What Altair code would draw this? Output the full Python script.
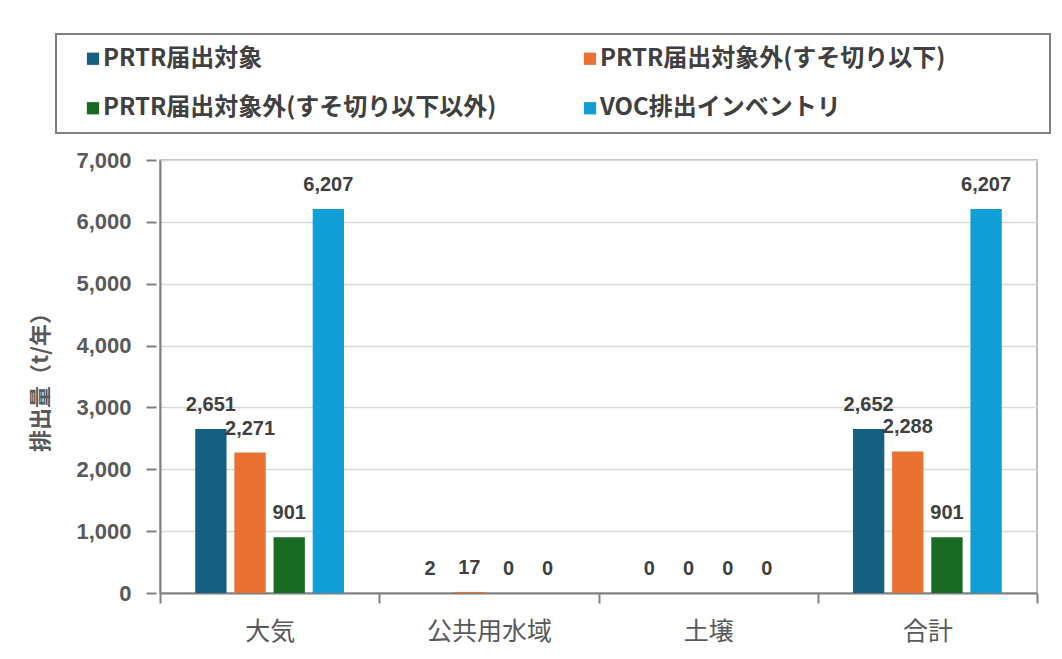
import altair as alt
import pandas as pd

# ---- data ----
categories = ["大気", "公共用水域", "土壌", "合計"]
series_names = [
    "PRTR届出対象",
    "PRTR届出対象外(すそ切り以下)",
    "PRTR届出対象外(すそ切り以下以外)",
    "VOC排出インベントリ",
]
series_colors = ["#156082", "#E97132", "#196B24", "#0F9ED5"]
v_prtr = [2651, 2, 0, 2652]
v_below = [2271, 17, 0, 2288]
v_other = [901, 0, 0, 901]
v_voc = [6207, 0, 0, 6207]
y_ticks = [0, 1000, 2000, 3000, 4000, 5000, 6000, 7000]
y_title = "排出量（t/年）"

CJK = "Noto Sans CJK JP"
NUM = "Liberation Sans"
AXIS_GRAY = "#808080"

rows = []
for s, vals in zip(series_names, [v_prtr, v_below, v_other, v_voc]):
    for c, v in zip(categories, vals):
        rows.append({"category": c, "series": s, "value": v})
df = pd.DataFrame(rows)

color_scale = alt.Scale(domain=series_names, range=series_colors)
y_scale = alt.Scale(domain=[0, 7000], nice=False)

# ---- legend panel (boxed, 2 columns) ----
leg_df = pd.DataFrame({
    "series": series_names,
    "col": [i % 2 for i in range(len(series_names))],
    "row": [i // 2 for i in range(len(series_names))],
})
leg_base = alt.Chart(leg_df).encode(
    x=alt.X("col:Q", axis=None, scale=alt.Scale(domain=[0, 2], nice=False, zero=False)),
    y=alt.Y("row:Q",
            axis=alt.Axis(title=None, ticks=False, domain=False, grid=False,
                          values=[0], labelExpr="'0000'", labelOpacity=0,
                          labelFont=NUM, labelFontSize=10, labelPadding=3),
            scale=alt.Scale(domain=[-0.5, 1.5], reverse=True, nice=False, zero=False)),
)
leg_sym = leg_base.mark_square(size=150, opacity=1, xOffset=37).encode(
    color=alt.Color("series:N", scale=color_scale, legend=None)
)
leg_txt = leg_base.mark_text(
    align="left", baseline="middle", xOffset=47, font=CJK, fontSize=24,
    fontWeight="bold", color="#404040"
).encode(text="series:N")
legend_panel = alt.layer(leg_sym, leg_txt).properties(
    width=994, height=99,
    view=alt.ViewBackground(stroke="#7f7f7f", strokeWidth=2),
)

# ---- y-axis cell (labels + title) ----
yaxis_cell = alt.Chart(df).mark_point(opacity=0).encode(
    y=alt.Y("value:Q", scale=y_scale,
            axis=alt.Axis(values=y_ticks, labelExpr="format(datum.value, ',')",
                          offset=-100, domain=False, grid=False,
                          title=y_title, titleFont=CJK, titleFontSize=22,
                          titleFontWeight="bold", titleColor="#595959",
                          titlePadding=23,
                          labelFont=NUM, labelFontSize=22, labelFontWeight="bold",
                          labelColor="#595959", labelPadding=15,
                          tickSize=10, tickColor=AXIS_GRAY, tickWidth=2)),
).properties(width=100, height=433,
             view=alt.ViewBackground(stroke="transparent"))

# ---- bar plot ----
base = alt.Chart(df).encode(
    x=alt.X("category:N", sort=categories,
            scale=alt.Scale(paddingInner=0, paddingOuter=0),
            axis=alt.Axis(title=None, labelAngle=0, tickBand="extent",
                          tickSize=10, tickColor=AXIS_GRAY, tickWidth=2,
                          domainColor=AXIS_GRAY, domainWidth=2,
                          labelFont=CJK, labelFontSize=25,
                          labelColor="#595959", labelPadding=16)),
    xOffset=alt.XOffset("series:N", sort=series_names,
                        scale=alt.Scale(paddingInner=0.2, paddingOuter=0.9)),
    y=alt.Y("value:Q", scale=y_scale,
            axis=alt.Axis(values=y_ticks, labels=False, ticks=False, title=None,
                          domainColor=AXIS_GRAY, domainWidth=2,
                          gridColor="#d9d9d9", gridWidth=1.5)),
)
bars = base.mark_bar().encode(
    color=alt.Color("series:N", scale=color_scale, legend=None)
)
labels = base.mark_text(
    baseline="alphabetic", dy=-18, font=NUM, fontSize=20, fontWeight="bold",
    color="#404040"
).encode(text=alt.Text("value:Q", format=","))
plot = alt.layer(bars, labels).properties(
    width=877, height=433,
    view=alt.ViewBackground(stroke="#a6a6a6", strokeWidth=1.5),
)

main_row = alt.hconcat(yaxis_cell, plot, spacing=0)

chart = alt.vconcat(legend_panel, main_row, spacing=14).properties(
    padding={"left": 21, "top": 25, "right": 0, "bottom": 5},
    background="white",
)

chart.save("out.html", embed_options={"renderer": "svg", "actions": False})
